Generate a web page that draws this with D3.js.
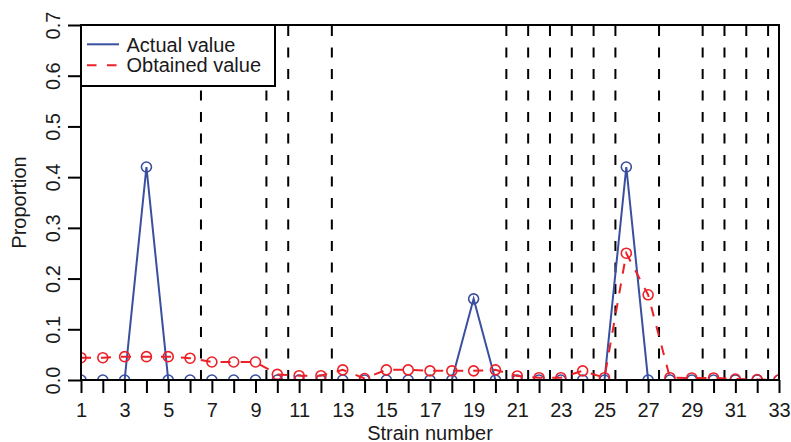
<!DOCTYPE html>
<html>
<head>
<meta charset="utf-8">
<script src="https://cdn.jsdelivr.net/npm/d3@7"></script>
<style>
  html, body { margin: 0; padding: 0; background: #fff; }
  svg { display: block; font-family: "Liberation Sans", Arial, Helvetica, sans-serif; }
</style>
</head>
<body>
<svg id="chart" width="791" height="442"></svg>
<script>
// ---- data ----
const strains = d3.range(1, 34); // 1..33
const actualValues = [0,0,0,0.42,0,0,0,0,0,0,0,0,0,0,0,0,0,0,0.16,0,0,0,0,0,0,0.42,0,0,0,0,0,0,0];
const obtainedValues = [0.044,0.044,0.046,0.046,0.046,0.043,0.0355,0.0355,0.0355,0.011,0.0085,0.0085,0.020,0.003,0.020,0.020,
  0.018,0.018,0.018,0.020,0.008,0.0045,0.0045,0.018,0.0045,0.25,0.168,0.0045,0.004,0.004,0.002,0.001,0.0];
const separators = [6.5, 9.5, 10.5, 12.5, 20.5, 21.5, 22.5, 23.5, 24.5, 25.5, 27.5, 29.5, 30.5, 31.5, 32.5];
const yTicks = [0, 0.1, 0.2, 0.3, 0.4, 0.5, 0.6, 0.7];
const xTickLabels = strains.filter(d => d % 2 === 1);
const legendLabels = ["Actual value", "Obtained value"];
const axisTitles = { x: "Strain number", y: "Proportion" };

// ---- layout ----
const svg = d3.select("#chart");
const L = 81, R = 779, T = 25, B = 380;
const x = d3.scaleLinear().domain([1, 33]).range([L, R]);
const y = d3.scaleLinear().domain([0, 0.7]).range([B, T]);
const blue = "#3a4f9f", red = "#ec2027", ink = "#1a1a1a";
const fontSize = 20;

svg.append("defs").append("clipPath").attr("id", "plotclip")
  .append("rect").attr("x", L).attr("y", T).attr("width", R - L).attr("height", B - T);

const plot = svg.append("g").attr("clip-path", "url(#plotclip)");

// vertical dashed separators
plot.selectAll("line.sep").data(separators).join("line")
  .attr("class", "sep")
  .attr("x1", d => x(d)).attr("x2", d => x(d))
  .attr("y1", B).attr("y2", T)
  .attr("stroke", "#000").attr("stroke-width", 2)
  .attr("stroke-dasharray", "10,11.5");

const line = d3.line().x((d, i) => x(strains[i])).y(d => y(d));

// actual series
plot.append("path").datum(actualValues)
  .attr("d", line).attr("fill", "none").attr("stroke", blue).attr("stroke-width", 2);
plot.selectAll("circle.act").data(actualValues).join("circle")
  .attr("class", "act")
  .attr("cx", (d, i) => x(strains[i])).attr("cy", d => y(d)).attr("r", 5)
  .attr("fill", "none").attr("stroke", blue).attr("stroke-width", 1.6);

// obtained series
plot.append("path").datum(obtainedValues)
  .attr("d", line).attr("fill", "none").attr("stroke", red).attr("stroke-width", 2)
  .attr("stroke-dasharray", "10,10");
plot.selectAll("circle.obt").data(obtainedValues).join("circle")
  .attr("class", "obt")
  .attr("cx", (d, i) => x(strains[i])).attr("cy", d => y(d)).attr("r", 5)
  .attr("fill", "none").attr("stroke", red).attr("stroke-width", 1.6);

// x axis
const xAxis = d3.axisBottom(x).tickValues(strains).tickSize(13).tickPadding(10)
  .tickFormat(d => (d % 2 === 1 ? String(d) : ""));
const gx = svg.append("g").attr("transform", `translate(0,${B})`).call(xAxis);
gx.select(".domain").remove();
gx.selectAll(".tick line").attr("stroke", "#000").attr("stroke-width", 2);
gx.selectAll(".tick text").attr("font-size", fontSize).attr("fill", ink)
  .attr("font-family", "Liberation Sans, Arial, sans-serif");

// y axis
const yAxis = d3.axisLeft(y).tickValues(yTicks).tickSize(13).tickFormat(d3.format(".1f"));
const gy = svg.append("g").attr("transform", `translate(${L},0)`).call(yAxis);
gy.select(".domain").remove();
gy.selectAll(".tick line").attr("stroke", "#000").attr("stroke-width", 2);
gy.selectAll(".tick text")
  .attr("x", null).attr("dy", null).attr("y", null)
  .attr("text-anchor", "middle")
  .attr("transform", "translate(-21,0) rotate(-90)")
  .attr("font-size", fontSize).attr("fill", ink)
  .attr("font-family", "Liberation Sans, Arial, sans-serif");

// box
svg.append("rect").attr("x", L).attr("y", T).attr("width", R - L).attr("height", B - T)
  .attr("fill", "none").attr("stroke", "#000").attr("stroke-width", 2);

// axis titles
svg.append("text").attr("x", (L + R) / 2).attr("y", 439.5)
  .attr("text-anchor", "middle").attr("font-size", fontSize).attr("fill", ink)
  .text(axisTitles.x);
svg.append("text").attr("transform", `translate(26,${(T + B) / 2}) rotate(-90)`)
  .attr("text-anchor", "middle").attr("font-size", fontSize).attr("fill", ink)
  .text(axisTitles.y);

// legend
const lg = svg.append("g");
lg.append("rect").attr("x", L).attr("y", T).attr("width", 275 - L).attr("height", 86 - T)
  .attr("fill", "#fff").attr("stroke", "#000").attr("stroke-width", 2);
const legendItems = [
  { label: legendLabels[0], color: blue, dash: null, ly: 44.3, ty: 51.7 },
  { label: legendLabels[1], color: red, dash: "9.5,10.5", ly: 65.3, ty: 72.3 }
];
legendItems.forEach(it => {
  lg.append("line").attr("x1", 87).attr("x2", 119).attr("y1", it.ly).attr("y2", it.ly)
    .attr("stroke", it.color).attr("stroke-width", 2)
    .attr("stroke-dasharray", it.dash);
  lg.append("text").attr("x", 126.5).attr("y", it.ty).attr("font-size", fontSize).attr("fill", ink)
    .text(it.label);
});
</script>
</body>
</html>
